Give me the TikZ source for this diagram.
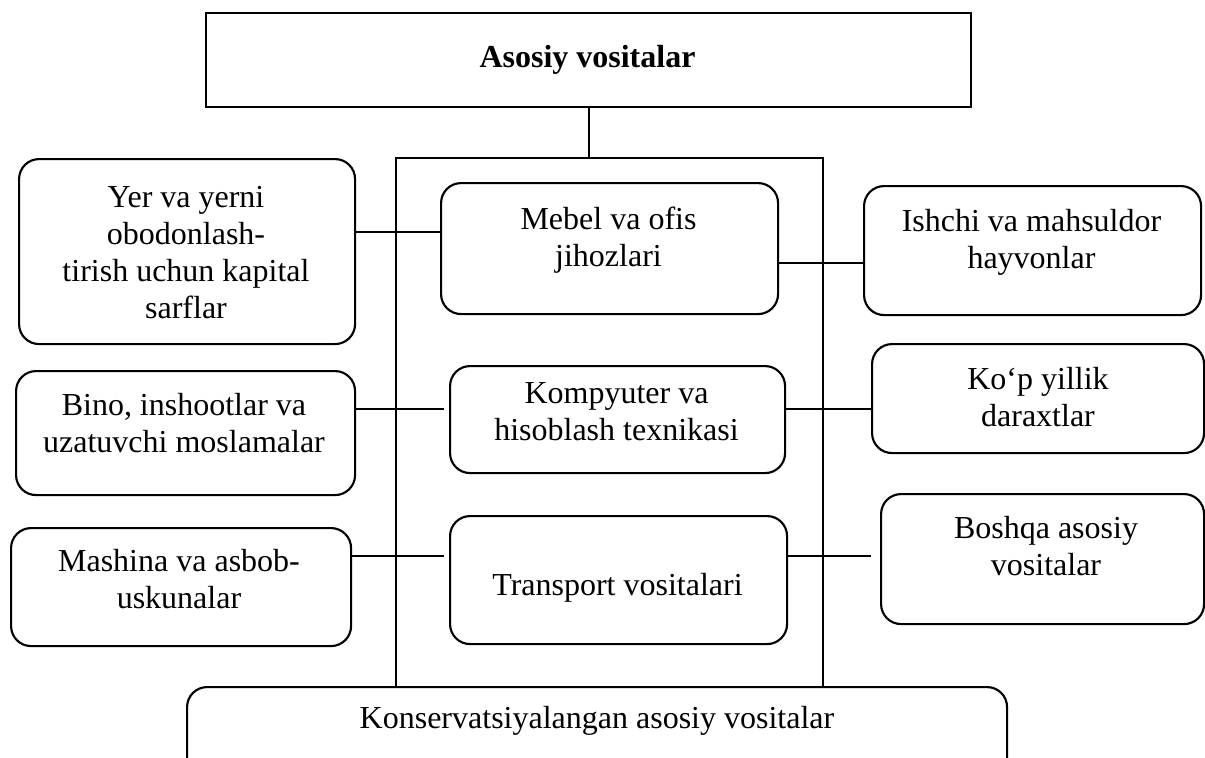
\documentclass[tikz,border=0pt]{standalone}
\usepackage{fontspec}
\setmainfont{Liberation Serif}
\usetikzlibrary{calc}
\begin{document}
\begin{tikzpicture}[x=0.75pt,y=-0.75pt,
  card/.style={draw, line width=1.6pt, rounded corners=15pt, inner sep=0pt, anchor=north west},
  headbox/.style={draw, line width=1.6pt, inner sep=0pt, anchor=north west},
  lbl/.style={align=center, inner sep=0pt, font=\fontsize{24}{27.75}\selectfont},
  conn/.style={line width=1.5pt},
  thinline/.style={line width=0.8pt}]
\useasboundingbox (0,0) rectangle (1205,757);
\clip (0,0) rectangle (1205,757);

% boxes: style, name, top-left corner, width and height in px
\newcommand\mkbox[6]{\node[#1, minimum width=#5*0.75pt, minimum height=#6*0.75pt] (#2) at (#3,#4) {};}
\mkbox{headbox}{top}{205}{12}{765}{94}
\mkbox{card}{yer}{18}{158}{336}{185}
\mkbox{card}{mebel}{440}{182}{337}{131}
\mkbox{card}{ishchi}{863}{185}{337}{129}
\mkbox{card}{bino}{15}{370}{339}{124}
\mkbox{card}{komp}{449}{365}{335}{107}
\mkbox{card}{kop}{871}{343}{332}{109}
\mkbox{card}{mashina}{10}{527}{340}{118}
\mkbox{card}{transport}{449}{515}{337}{128}
\mkbox{card}{boshqa}{880}{493}{323}{130}
\mkbox{card}{kons}{186}{686}{820}{120}

% texts
\node[lbl, font=\fontsize{24}{27.75}\selectfont\bfseries] (topT) at (587.5,60) {Asosiy vositalar};
\node[lbl] (yerT) at (186,253) {Yer va yerni\\obodonlash-\\tirish uchun kapital\\sarflar};
\node[lbl] (mebelT) at (608.5,240) {Mebel va ofis\\jihozlari};
\node[lbl] (ishchiT) at (1031.5,242) {Ishchi va mahsuldor\\hayvonlar};
\node[lbl] (binoT) at (184,423) {Bino, inshootlar va\\uzatuvchi moslamalar};
\node[lbl] (kompT) at (616.5,412) {Kompyuter va\\hisoblash texnikasi};
\node[lbl] (kopT) at (1038,397) {Ko‘p yillik\\daraxtlar};
\node[lbl] (mashinaT) at (179,579) {Mashina va asbob-\\uskunalar};
\node[lbl] (transportT) at (617.5,588) {Transport vositalari};
\node[lbl] (boshqaT) at (1046,546) {Boshqa asosiy\\vositalar};
\node[lbl] (konsT) at (597,721) {Konservatsiyalangan asosiy vositalar};

% frame and connector levels
\coordinate (fl) at (396,158);
\coordinate (fr) at (823,158);
\coordinate (r1) at (0,232);
\coordinate (r2) at (0,263);
\coordinate (r3) at (0,409);
\coordinate (r4) at (0,556);

\draw[conn] (top.south) -- (top.south |- fl);
\draw[conn] (fl |- r4) -- (fl) -- (fr) -- (fr |- r4);
\draw[thinline] (fl |- r4) -- (fl |- kons.north);
\draw[thinline] (fr |- r4) -- (fr |- kons.north);

\draw[conn] (yer.east |- r1) -- (mebel.west |- r1);
\draw[conn] (mebel.east |- r2) -- (ishchi.west |- r2);
\draw[conn, shorten >=3.75pt] (bino.east |- r3) -- (komp.west |- r3);
\draw[conn] (komp.east |- r3) -- (kop.west |- r3);
\draw[conn, shorten >=3.75pt] (mashina.east |- r4) -- (transport.west |- r4);
\draw[conn, shorten >=6.75pt] (transport.east |- r4) -- (boshqa.west |- r4);
\end{tikzpicture}
\end{document}
